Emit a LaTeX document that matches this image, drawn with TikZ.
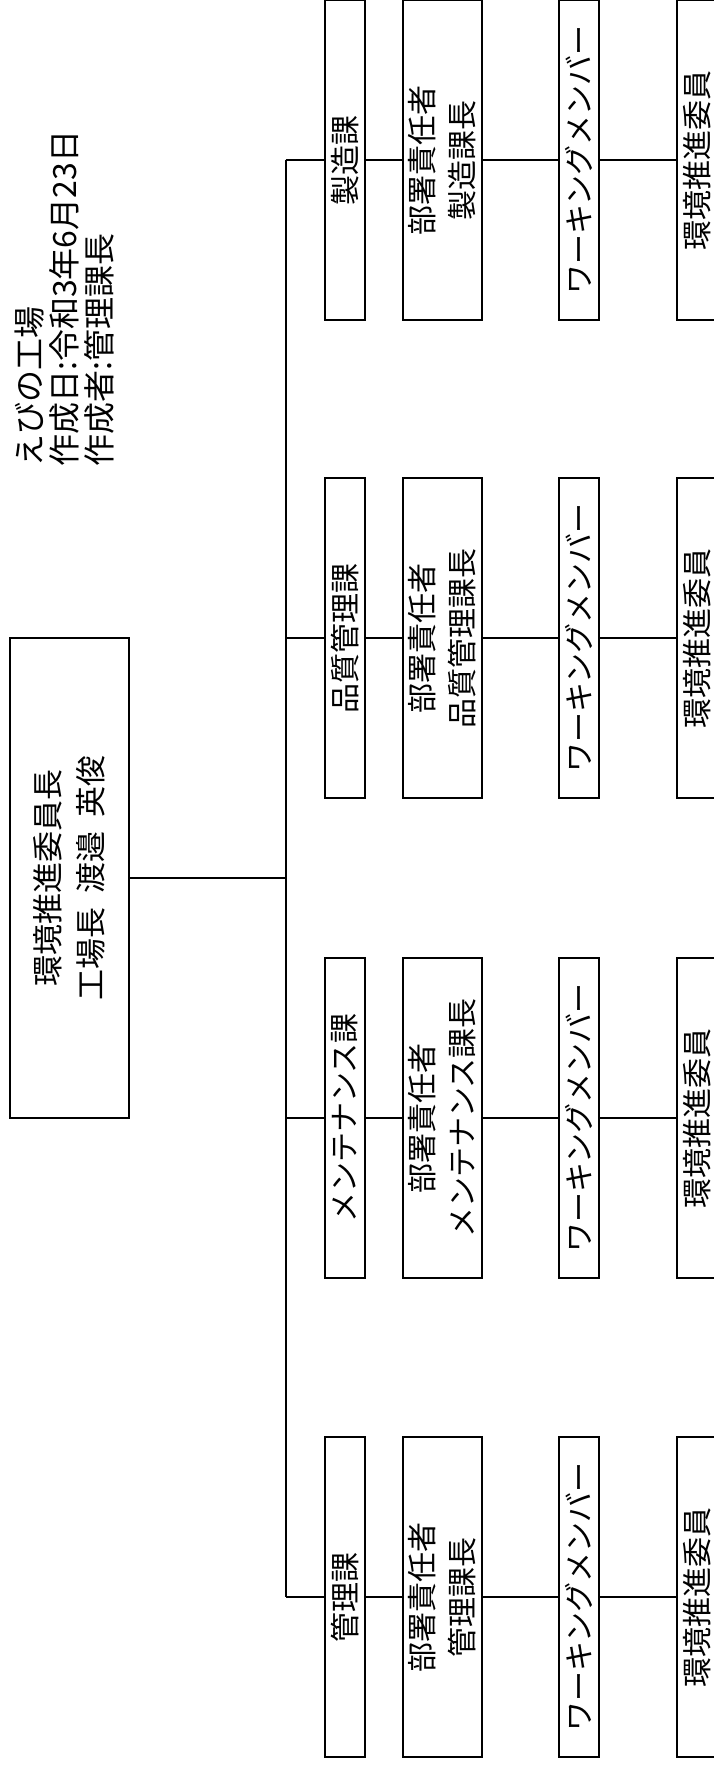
\documentclass[tikz,border=0pt]{standalone}
\usepackage{fontspec}
\setmainfont{Noto Sans CJK JP}

\begin{document}
\begin{tikzpicture}[x=1pt,y=-1pt]
    \pgfmathsetmacro{\boxlength}{320}
    \pgfmathsetmacro{\narrowwidth}{40}
    \pgfmathsetmacro{\widewidth}{79}
    \pgfmathsetmacro{\trunkx}{285.6}
    \pgfmathsetmacro{\colA}{345}
    \pgfmathsetmacro{\colB}{442.5}
    \pgfmathsetmacro{\colC}{579}
    \pgfmathsetmacro{\colD}{697}
    \pgfmathsetmacro{\rowA}{160}
    \pgfmathsetmacro{\rowB}{638}
    \pgfmathsetmacro{\rowC}{1118}
    \pgfmathsetmacro{\rowD}{1597}
    \providecommand{\boxfontsize}{\fontsize{30pt}{40pt}\selectfont}
    \providecommand{\chairfontsize}{\fontsize{31pt}{43pt}\selectfont}
    \providecommand{\headfontsize}{\fontsize{32pt}{35pt}\selectfont}
    \tikzset{
        orgbox/.style={draw,line width=2.6pt,rotate=90,minimum width=\boxlength pt,minimum height=\narrowwidth pt,inner sep=0,font=\boxfontsize,align=center},
        widebox/.style={orgbox,minimum height=\widewidth pt},
        link/.style={line width=2pt}
    }
    \useasboundingbox (0,0) rectangle (713,1765);
    % header
    \node[rotate=90,anchor=north west,inner sep=0,align=left,font=\headfontsize] (info) at (15,467)
    {えびの工場\\作成日:令和3年6月23日\\作成者:管理課長};
    % chairman
    \node[orgbox,minimum width=480pt,minimum height=119pt,font=\chairfontsize] (chair) at (69.5,878)
    {環境推進委員長\\工場長\hspace{.45em}渡邉\hspace{.45em}英俊};
    % 製造課
    \node[orgbox] (secA) at (\colA,\rowA) {製造課};
    \node[widebox] (headA) at (\colB,\rowA) {部署責任者\\製造課長};
    \node[orgbox] (workA) at (\colC,\rowA) {ワーキングメンバー};
    \node[orgbox] (membA) at (\colD,\rowA) {環境推進委員};
    % 品質管理課
    \node[orgbox] (secB) at (\colA,\rowB) {品質管理課};
    \node[widebox] (headB) at (\colB,\rowB) {部署責任者\\品質管理課長};
    \node[orgbox] (workB) at (\colC,\rowB) {ワーキングメンバー};
    \node[orgbox] (membB) at (\colD,\rowB) {環境推進委員};
    % メンテナンス課
    \node[orgbox] (secC) at (\colA,\rowC) {メンテナンス課};
    \node[widebox] (headC) at (\colB,\rowC) {部署責任者\\メンテナンス課長};
    \node[orgbox] (workC) at (\colC,\rowC) {ワーキングメンバー};
    \node[orgbox] (membC) at (\colD,\rowC) {環境推進委員};
    % 管理課
    \node[orgbox] (secD) at (\colA,\rowD) {管理課};
    \node[widebox] (headD) at (\colB,\rowD) {部署責任者\\管理課長};
    \node[orgbox] (workD) at (\colC,\rowD) {ワーキングメンバー};
    \node[orgbox] (membD) at (\colD,\rowD) {環境推進委員};
    % trunk
    \coordinate (tA) at (\trunkx,\rowA);
    \coordinate (tB) at (\trunkx,\rowB);
    \coordinate (tC) at (\trunkx,\rowC);
    \coordinate (tD) at (\trunkx,\rowD);
    \draw[link] (tA) -- (tD);
    \draw[link] (chair) -- (chair -| tA);
    \draw[link] (tA) -- (secA) -- (headA) -- (workA) -- (membA);
    \draw[link] (tB) -- (secB) -- (headB) -- (workB) -- (membB);
    \draw[link] (tC) -- (secC) -- (headC) -- (workC) -- (membC);
    \draw[link] (tD) -- (secD) -- (headD) -- (workD) -- (membD);
\end{tikzpicture}
\end{document}
